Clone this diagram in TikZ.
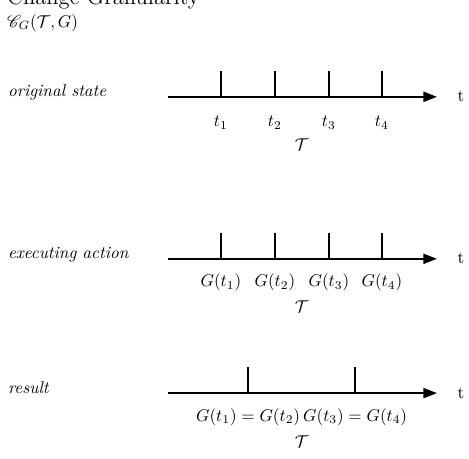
\documentclass[tikz,border=0pt]{standalone}
\usepackage{amsmath,amssymb}
\usepackage{mathrsfs}
\usetikzlibrary{arrows.meta,positioning}
\tikzset{
  timeaxis/.style={line width=1pt, -{Triangle[length=2.8mm, width=2.1mm]}},
  tickmark/.style={line width=0.9pt},
  rowlabel/.style={anchor=base west, inner sep=0pt, font=\itshape},
  ticklabel/.style={anchor=base, inner sep=0pt},
}

\begin{document}
\begin{tikzpicture}
  \useasboundingbox (0,0) rectangle (9.64,-9.42);
  \def\th{0.53}
  % Title
  \node[anchor=base west, inner sep=0pt, font=\fontsize{13.2}{15}\selectfont] (title) at (0.14,-0.10) {Change Granularity};
  \node[anchor=west, inner sep=0pt] (op) at (0.14,-0.47) {$\mathscr{C}_G(\mathcal{T},G)$};

  % Original state
  \node[rowlabel] (lab1) at (0.16,-1.99) {original state};
  \coordinate (a1) at (3.45,-1.99);
  \coordinate (b1) at (8.98,-1.99);
  \draw[timeaxis] (a1) -- (b1);
  \node[right=0.3 of b1] (t1) {t};
  \foreach \i/\x in {1/4.54, 2/5.65, 3/6.76, 4/7.85}{
    \coordinate (p1\i) at (\x,-1.99);
    \draw[tickmark] (p1\i) -- ++(0,\th);
    \node[ticklabel] (l1\i) at (\x,-2.60) {$t_{\i}$};
  }
  \node[ticklabel] (T1) at (6.2,-3.10) {$\mathcal{T}$};

  % Executing action
  \node[rowlabel] (lab2) at (0.16,-5.32) {executing action};
  \coordinate (a2) at (3.45,-5.32);
  \coordinate (b2) at (8.98,-5.32);
  \draw[timeaxis] (a2) -- (b2);
  \node[right=0.3 of b2] (t2) {t};
  \foreach \i/\x in {1/4.54, 2/5.65, 3/6.76, 4/7.85}{
    \coordinate (p2\i) at (\x,-5.32);
    \draw[tickmark] (p2\i) -- ++(0,\th);
    \node[ticklabel] (l2\i) at (\x,-5.89) {$G(t_{\i})$};
  }
  \node[ticklabel] (T2) at (6.2,-6.43) {$\mathcal{T}$};

  % Result (merged granules)
  \node[rowlabel] (lab3) at (0.16,-8.08) {result};
  \coordinate (a3) at (3.45,-8.08);
  \coordinate (b3) at (8.98,-8.08);
  \draw[timeaxis] (a3) -- (b3);
  \node[right=0.3 of b3] (t3) {t};
  \coordinate (p31) at (5.10,-8.08);
  \coordinate (p32) at (7.30,-8.08);
  \draw[tickmark] (p31) -- ++(0,\th);
  \draw[tickmark] (p32) -- ++(0,\th);
  \node[ticklabel] (l31) at (5.10,-8.66) {$G(t_1)=G(t_2)$};
  \node[ticklabel] (l32) at (7.30,-8.66) {$G(t_3)=G(t_4)$};
  \node[ticklabel] (T3) at (6.2,-9.20) {$\mathcal{T}$};
\end{tikzpicture}
\end{document}
